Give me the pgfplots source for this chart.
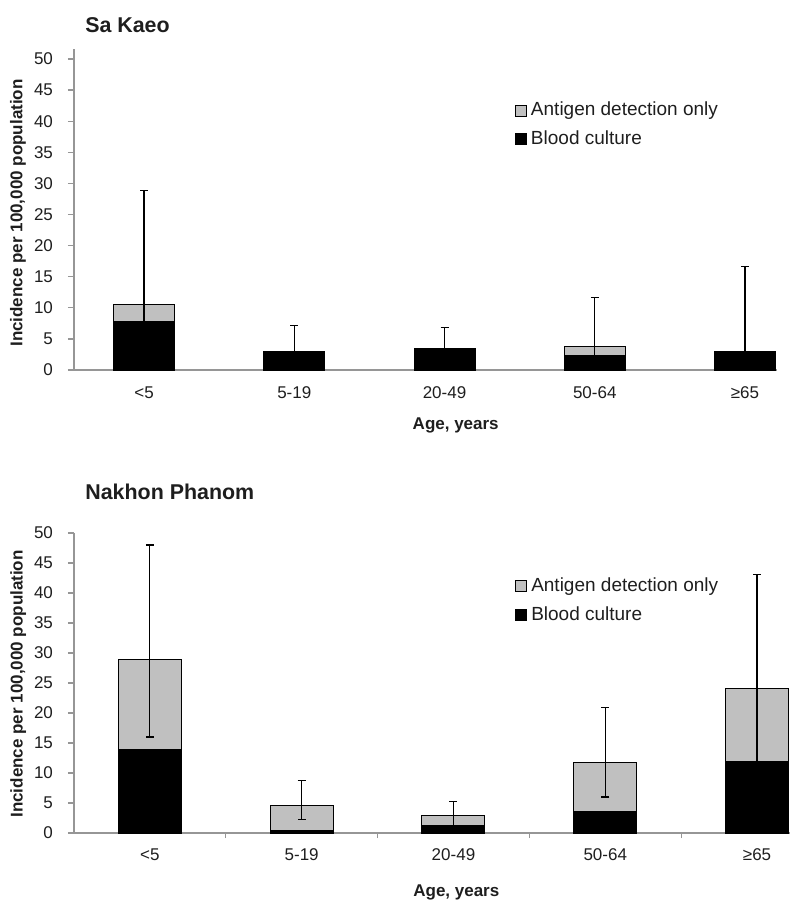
\documentclass[border=0pt]{standalone}
\usepackage{fontspec}
\setmainfont{Liberation Sans}
\usepackage{pgfplots}
\pgfplotsset{compat=1.18}
\definecolor{antigen}{RGB}{192,192,192}
\definecolor{axgray}{RGB}{150,150,150}
\definecolor{txt}{RGB}{30,30,30}
\pgfplotsset{
  mychart/.style={
    scale only axis,
    axis x line*=bottom, axis y line*=left,
    axis line style={draw=axgray, line width=0.6pt, -},
    ymin=0, ytick={0,5,...,50},
    tick align=outside,
    major tick length=3pt,
    ytick style={draw=axgray, line width=0.6pt},
    xtick={0,1,2,3,4},
    xticklabels={<5,5-19,20-49,50-64,≥65},
    xtick style={draw=none},
    /pgf/number format/assume math mode=true,
    ticklabel style={font=\fontsize{8.5}{10}\selectfont, text=txt},
    yticklabel style={xshift=-4pt},
    title style={font=\fontsize{10.7}{12}\selectfont\bfseries, anchor=west, yshift=-6pt, text=txt},
    label style={font=\fontsize{8.5}{10}\selectfont\bfseries, text=txt},
    xlabel={Age, years},
    ylabel={Incidence per 100,000 population},
    legend cell align=left,
    legend style={draw=none, fill=none, anchor=north west,
      font=\fontsize{9.5}{11}\selectfont, text=txt, row sep=2pt, inner sep=0pt},
  },
  sqleg/.style={legend image code/.code={\draw[##1, line width=0.4pt] (0pt,-2.75pt) rectangle (5.5pt,2.75pt);}},
  gbar/.style={ybar, bar width=#1, bar shift=0pt, fill=antigen, draw=black, line width=0.5pt, sqleg},
  kbar/.style={ybar, bar width=#1, bar shift=0pt, fill=black, draw=black, line width=0.5pt, sqleg},
  ebar/.style={draw=none, mark=none, forget plot,
    error bars/.cd, y dir=both, y explicit, error mark=-,
    error bar style={draw=black, line width=0.6pt},
    error mark options={rotate=90, draw=black, line width=0.6pt, mark size=2pt}},
}
\begin{document}
\begin{tikzpicture}
\path[use as bounding box] (0pt,0pt) rectangle (396pt,-451pt);
% ---------------- Sa Kaeo ----------------
\begin{axis}[mychart,
  at={(37pt,-185pt)}, anchor=south west,
  width=351.5pt, height=160.5pt,
  xmin=-0.466, xmax=4.213, ymax=51.6,
  xticklabel style={yshift=-2pt},
  title={Sa Kaeo}, title style={at={(axis description cs:0.006,1.075)}},
  xlabel style={at={(axis description cs:0.543,-0.172)}, anchor=center},
  ylabel style={at={(axis description cs:-0.0797,0.489)}, anchor=center},
  legend style={at={(axis description cs:0.627,0.848)}},
]
\addplot[gbar=30.5pt] coordinates {(0,10.6) (1,3.0) (2,3.4) (3,3.8) (4,3.0)};
\addlegendentry{Antigen detection only}
\addplot[ebar] coordinates {
  (0,10.6) += (0,18.2) -= (0,6.7)
  (1,3.0)  += (0,4.2)  -= (0,1.5)
  (2,3.4)  += (0,3.4)  -= (0,1.7)
  (3,3.8)  += (0,7.9)  -= (0,2.65)
  (4,3.0)  += (0,13.6) -= (0,1.5)
};
\addplot[kbar=30.5pt] coordinates {(0,7.8) (1,3.0) (2,3.4) (3,2.3) (4,3.0)};
\addlegendentry{Blood culture}
\end{axis}
% ---------------- Nakhon Phanom ----------------
\begin{axis}[mychart,
  at={(37pt,-416.5pt)}, anchor=south west,
  width=358pt, height=150pt,
  xmin=-0.5, xmax=4.217, ymax=50,
  xticklabel style={yshift=-1.5pt},
  extra x ticks={0.5,1.5,2.5,3.5}, extra x tick labels={},
  extra x tick style={xtick style={draw=axgray, line width=0.6pt}, major tick length=2.5pt},
  title={Nakhon Phanom}, title style={at={(axis description cs:0.006,1.137)}},
  xlabel style={at={(axis description cs:0.534,-0.197)}, anchor=center},
  ylabel style={at={(axis description cs:-0.078,0.497)}, anchor=center},
  legend style={at={(axis description cs:0.616,0.865)}},
]
\addplot[gbar=31.5pt] coordinates {(0,29.0) (1,4.6) (2,2.9) (3,11.7) (4,24.1)};
\addlegendentry{Antigen detection only}
\addplot[ebar] coordinates {
  (0,29.0) += (0,19.0) -= (0,13.0)
  (1,4.6)  += (0,4.1)  -= (0,2.4)
  (2,2.9)  += (0,2.4)  -= (0,1.6)
  (3,11.7) += (0,9.2)  -= (0,5.7)
  (4,24.1) += (0,19.0) -= (0,13.1)
};
\addplot[kbar=31.5pt] coordinates {(0,14.0) (1,0.4) (2,1.2) (3,3.6) (4,12.0)};
\addlegendentry{Blood culture}
\end{axis}
\end{tikzpicture}
\end{document}
